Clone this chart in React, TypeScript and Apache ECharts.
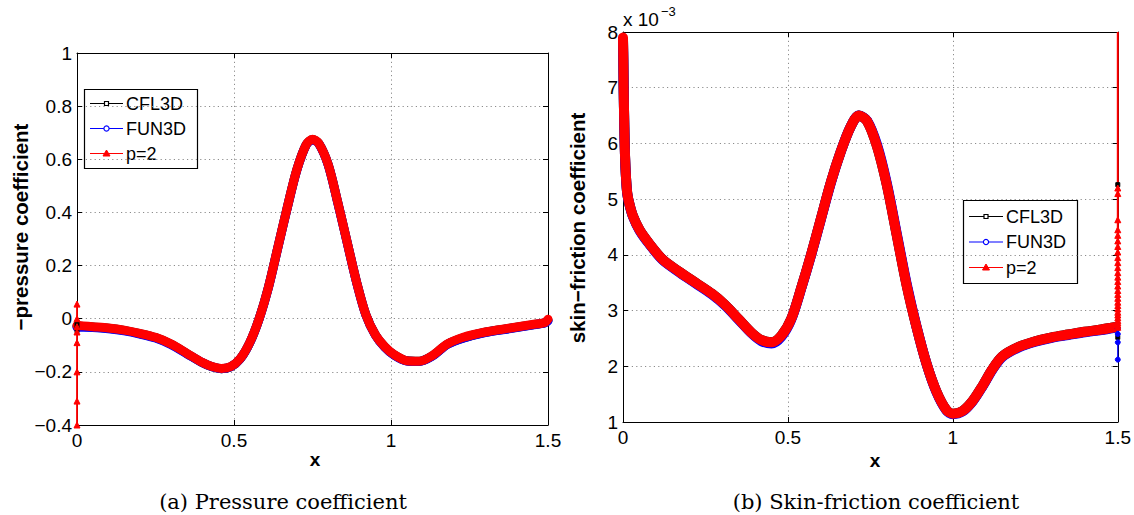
import React, { useEffect, useRef } from "react";
import * as echarts from "echarts";

// ---------- (a) pressure coefficient data ----------
const CP_X = [0, 0.02, 0.05, 0.1, 0.15, 0.2, 0.25, 0.3, 0.35, 0.4, 0.43, 0.46, 0.49, 0.52, 0.55, 0.58, 0.61, 0.64, 0.67, 0.7, 0.73, 0.75, 0.77, 0.8, 0.83, 0.86, 0.89, 0.92, 0.95, 0.98, 1.01, 1.05, 1.09, 1.13, 1.18, 1.23, 1.3, 1.38, 1.45, 1.49, 1.5];
const CP_CFL3D = [-0.028, -0.029, -0.031, -0.036, -0.044, -0.056, -0.071, -0.096, -0.131, -0.166, -0.181, -0.188, -0.181, -0.151, -0.091, 0.0, 0.12, 0.27, 0.42, 0.56, 0.655, 0.674, 0.66, 0.58, 0.44, 0.29, 0.14, 0.015, -0.06, -0.106, -0.136, -0.158, -0.16, -0.141, -0.096, -0.072, -0.051, -0.036, -0.023, -0.015, -0.006];
const CP_FUN3D = [-0.032, -0.032, -0.033, -0.038, -0.046, -0.058, -0.073, -0.098, -0.132, -0.166, -0.181, -0.188, -0.181, -0.151, -0.091, -0.001, 0.119, 0.269, 0.419, 0.559, 0.654, 0.673, 0.659, 0.579, 0.439, 0.289, 0.139, 0.014, -0.061, -0.107, -0.137, -0.159, -0.161, -0.142, -0.097, -0.073, -0.052, -0.037, -0.024, -0.016, -0.008];
const CP_P2 = [-0.025, -0.027, -0.03, -0.035, -0.043, -0.055, -0.07, -0.095, -0.13, -0.165, -0.18, -0.187, -0.18, -0.15, -0.09, 0.0, 0.12, 0.27, 0.42, 0.56, 0.655, 0.675, 0.66, 0.58, 0.44, 0.29, 0.14, 0.015, -0.06, -0.105, -0.135, -0.158, -0.16, -0.14, -0.095, -0.07, -0.05, -0.035, -0.022, -0.014, -0.002];
// leading-edge points, all at x = 0
const CP_P2_EDGE = [0.055, 0.0, -0.03, -0.05, -0.09, -0.2, -0.31, -0.4];
const CP_CFL3D_EDGE = [-0.02, -0.035, -0.045];
const CP_TICKS_Y = [-0.4, -0.2, 0, 0.2, 0.4, 0.6, 0.8, 1];

// ---------- (b) skin-friction coefficient data (x 10^-3) ----------
const CF_X = [0, 0.001, 0.002, 0.004, 0.006, 0.009, 0.013, 0.02, 0.03, 0.05, 0.08, 0.12, 0.17, 0.22, 0.27, 0.31, 0.35, 0.39, 0.42, 0.45, 0.48, 0.51, 0.54, 0.57, 0.6, 0.63, 0.66, 0.69, 0.715, 0.74, 0.77, 0.8, 0.83, 0.86, 0.89, 0.92, 0.95, 0.98, 1.0, 1.03, 1.06, 1.09, 1.12, 1.15, 1.2, 1.25, 1.3, 1.35, 1.4, 1.45, 1.49];
const CF_CFL3D = [7.85, 7.5, 7.0, 6.3, 5.8, 5.4, 5.1, 4.9, 4.7, 4.45, 4.2, 3.92, 3.7, 3.5, 3.3, 3.1, 2.85, 2.6, 2.47, 2.43, 2.55, 2.85, 3.4, 4.0, 4.65, 5.3, 5.85, 6.3, 6.5, 6.4, 5.95, 5.25, 4.35, 3.45, 2.7, 2.05, 1.55, 1.22, 1.15, 1.2, 1.38, 1.65, 1.95, 2.18, 2.35, 2.45, 2.52, 2.57, 2.62, 2.66, 2.7];
const CF_FUN3D = [7.85, 7.49, 6.99, 6.29, 5.79, 5.39, 5.09, 4.89, 4.69, 4.44, 4.19, 3.91, 3.69, 3.49, 3.29, 3.09, 2.84, 2.59, 2.45, 2.41, 2.53, 2.84, 3.39, 3.99, 4.64, 5.29, 5.85, 6.3, 6.5, 6.41, 5.98, 5.28, 4.38, 3.48, 2.71, 2.05, 1.54, 1.21, 1.14, 1.19, 1.37, 1.64, 1.94, 2.17, 2.34, 2.44, 2.51, 2.56, 2.61, 2.65, 2.69];
const CF_P2 = [7.9, 7.5, 7.0, 6.3, 5.8, 5.4, 5.1, 4.9, 4.7, 4.45, 4.2, 3.92, 3.7, 3.5, 3.3, 3.1, 2.85, 2.6, 2.47, 2.43, 2.55, 2.85, 3.4, 4.0, 4.65, 5.3, 5.85, 6.3, 6.5, 6.4, 5.95, 5.25, 4.35, 3.45, 2.7, 2.05, 1.55, 1.22, 1.15, 1.2, 1.38, 1.65, 1.95, 2.18, 2.35, 2.45, 2.52, 2.57, 2.62, 2.66, 2.7];
// trailing-edge points, all at x = 1.5 (last value is the line's top end, no marker)
const CF_P2_EDGE = [2.7, 2.74, 2.78, 2.82, 2.87, 2.92, 2.97, 3.03, 3.09, 3.15, 3.22, 3.29, 3.36, 3.44, 3.52, 3.6, 3.68, 3.77, 3.86, 3.95, 4.05, 4.15, 4.25, 4.35, 4.45, 4.63, 5.1, 5.2, 8.0];
const CF_FUN3D_EDGE = [2.68, 2.58, 2.43, 2.12];
const CF_CFL3D_EDGE = [2.52, 5.26];
const CF_TICKS_Y = [1, 2, 3, 4, 5, 6, 7, 8];
const X_TICKS = [0, 0.5, 1, 1.5];

const LEGEND_NAMES = ["CFL3D", "FUN3D", "p=2"];
const COLORS = ["#000000", "#0000ff", "#ff0000"];

const SANS = "'Liberation Sans', Arial, Helvetica, sans-serif";
const SERIF = "'DejaVu Serif', 'Liberation Serif', serif";

const pairs = (xs: number[], ys: number[]) => xs.map((x, i) => [x, ys[i]]);
const atX = (x: number, ys: number[]) => ys.map((y) => [x, y]);

function fmtNum(v: number) {
  const r = Math.round(v * 10) / 10;
  return String(r).replace("-", "\u2212");
}

function xAxes(grid: number) {
  const base = {
    gridIndex: grid,
    type: "value",
    min: X_TICKS[0],
    max: X_TICKS[X_TICKS.length - 1],
    interval: 0.5,
    axisLine: { show: true, onZero: false, lineStyle: { color: "#000", width: 1 } },
    axisTick: { show: true, inside: true, length: 5, lineStyle: { color: "#000", width: 1 } },
  };
  return [
    {
      ...base,
      position: "bottom",
      axisLabel: { color: "#000", fontSize: 19, fontFamily: SANS, margin: 6, formatter: (v: number) => fmtNum(v), showMinLabel: true, showMaxLabel: true },
      splitLine: { show: true, lineStyle: { color: "#8c8c8c", width: 1, type: [1.2, 3.2] } },
    },
    { ...base, position: "top", axisLabel: { show: false }, splitLine: { show: false } },
  ];
}

function yAxes(grid: number, ticks: number[], interval: number) {
  const base = {
    gridIndex: grid,
    type: "value",
    min: ticks[0],
    max: ticks[ticks.length - 1],
    interval,
    axisLine: { show: true, onZero: false, lineStyle: { color: "#000", width: 1 } },
    axisTick: { show: true, inside: true, length: 5, lineStyle: { color: "#000", width: 1 } },
  };
  return [
    {
      ...base,
      position: "left",
      axisLabel: { color: "#000", fontSize: 19, fontFamily: SANS, margin: 5, formatter: (v: number) => fmtNum(v), showMinLabel: true, showMaxLabel: true },
      splitLine: { show: true, lineStyle: { color: "#8c8c8c", width: 1, type: [1.2, 3.2] } },
    },
    { ...base, position: "right", axisLabel: { show: false }, splitLine: { show: false } },
  ];
}

function thick(name: string, data: number[][], color: string, xi: number, yi: number, width: number) {
  return {
    type: "line",
    name,
    xAxisIndex: xi,
    yAxisIndex: yi,
    data,
    symbol: "none",
    smooth: 0.3,
    clip: false,
    silent: true,
    z: 5,
    lineStyle: { color, width, cap: "round", join: "round" },
  };
}

function thin(name: string, data: any[], color: string, xi: number, yi: number, symbol: string, size: number, lineWidth = 1.3) {
  return {
    type: "line",
    name,
    xAxisIndex: xi,
    yAxisIndex: yi,
    data,
    symbol,
    symbolSize: size,
    showSymbol: true,
    showAllSymbol: true,
    clip: false,
    silent: true,
    z: 5,
    lineStyle: { color, width: lineWidth, opacity: lineWidth > 0 ? 1 : 0 },
    itemStyle: { color, borderColor: color, borderWidth: 1 },
  };
}

function legendBox(x: number, y: number, w: number, h: number, rows: number[], lx1: number, lx2: number, tx: number) {
  const children: any[] = [
    { type: "rect", shape: { x, y, width: w, height: h }, style: { fill: "#fff", stroke: "#000", lineWidth: 1.2 } },
  ];
  const mx = (lx1 + lx2) / 2;
  LEGEND_NAMES.forEach((name, i) => {
    const ry = rows[i];
    const c = COLORS[i];
    children.push({ type: "line", shape: { x1: lx1, y1: ry, x2: lx2, y2: ry }, style: { stroke: c, lineWidth: 1.2 } });
    if (i === 0) {
      children.push({ type: "rect", shape: { x: mx - 2, y: ry - 2, width: 4, height: 4 }, style: { fill: "#fff", stroke: c, lineWidth: 1.2 } });
    } else if (i === 1) {
      children.push({ type: "circle", shape: { cx: mx, cy: ry, r: 2.6 }, style: { fill: "#fff", stroke: c, lineWidth: 1.2 } });
    } else {
      children.push({ type: "polygon", shape: { points: [[mx, ry - 3.5], [mx - 3.5, ry + 2.5], [mx + 3.5, ry + 2.5]] }, style: { fill: c, stroke: c, lineWidth: 1 } });
    }
    children.push({ type: "text", style: { x: tx, y: ry, text: name, fill: "#000", font: `18px ${SANS}`, textAlign: "left", textVerticalAlign: "middle" } });
  });
  return { type: "group", z: 100, children };
}

export default function App() {
  const ref = useRef<HTMLDivElement>(null);
  useEffect(() => {
    if (!ref.current) return;
    const chart = echarts.init(ref.current, undefined, { renderer: "svg" });
    const cfP2Edge = atX(1.5, CF_P2_EDGE).map((p, i, a) => (i === a.length - 1 ? { value: p, symbol: "none" } : p));
    const option: any = {
      animation: false,
      backgroundColor: "#fff",
      grid: [
        { left: 77, top: 53, width: 471, height: 372, show: false },
        { left: 623, top: 32, width: 496, height: 390, show: false },
      ],
      xAxis: [...xAxes(0), ...xAxes(1)],
      yAxis: [...yAxes(0, CP_TICKS_Y, 0.2), ...yAxes(1, CF_TICKS_Y, 1)],
      series: [
        thick("CFL3D", pairs(CP_X, CP_CFL3D), COLORS[0], 0, 0, 9),
        thick("FUN3D", pairs(CP_X, CP_FUN3D), COLORS[1], 0, 0, 9),
        thin("CFL3D edge", atX(0, CP_CFL3D_EDGE), COLORS[0], 0, 0, "rect", 4),
        thin("p=2 edge", atX(0, CP_P2_EDGE), COLORS[2], 0, 0, "triangle", 6, 1.8),
        thick("p=2", pairs(CP_X, CP_P2), COLORS[2], 0, 0, 9),

        thick("CFL3D", pairs(CF_X, CF_CFL3D), COLORS[0], 2, 2, 10),
        thick("FUN3D", pairs(CF_X, CF_FUN3D), COLORS[1], 2, 2, 10),
        thin("CFL3D edge", atX(1.5, CF_CFL3D_EDGE), COLORS[0], 2, 2, "rect", 4, 0),
        thin("FUN3D edge", atX(1.5, CF_FUN3D_EDGE), COLORS[1], 2, 2, "circle", 5),
        thin("p=2 edge", cfP2Edge, COLORS[2], 2, 2, "triangle", 6, 2),
        thick("p=2", pairs(CF_X, CF_P2), COLORS[2], 2, 2, 10),
      ],
      graphic: [
        legendBox(84.5, 89.5, 113, 79, [103.5, 128.5, 153.5], 90, 123, 126),
        legendBox(963.5, 200.5, 114, 83, [216.5, 242, 267.5], 969, 1003, 1006),
        { type: "text", x: 20, y: 227, rotation: Math.PI / 2, style: { text: "\u2212pressure coefficient", fill: "#000", font: `bold 20.5px ${SANS}`, textAlign: "center", textVerticalAlign: "middle" } },
        { type: "text", x: 577, y: 228, rotation: Math.PI / 2, style: { text: "skin\u2212friction coefficient", fill: "#000", font: `bold 20.5px ${SANS}`, textAlign: "center", textVerticalAlign: "middle" } },
        { type: "text", x: 315, y: 459, style: { text: "x", fill: "#000", font: `bold 19px ${SANS}`, textAlign: "center", textVerticalAlign: "middle" } },
        { type: "text", x: 875, y: 460, style: { text: "x", fill: "#000", font: `bold 19px ${SANS}`, textAlign: "center", textVerticalAlign: "middle" } },
        { type: "text", x: 623, y: 19, style: { text: "x 10", fill: "#000", font: `19px ${SANS}`, textAlign: "left", textVerticalAlign: "middle" } },
        { type: "text", x: 661, y: 11, style: { text: "\u22123", fill: "#000", font: `13px ${SANS}`, textAlign: "left", textVerticalAlign: "middle" } },
        { type: "text", x: 283, y: 502, style: { text: "(a) Pressure coefficient", fill: "#000", font: `21px ${SERIF}`, textAlign: "center", textVerticalAlign: "middle" } },
        { type: "text", x: 876, y: 502, style: { text: "(b) Skin-friction coefficient", fill: "#000", font: `21px ${SERIF}`, textAlign: "center", textVerticalAlign: "middle" } },
      ],
    };
    chart.setOption(option);
    return () => chart.dispose();
  }, []);
  return <div ref={ref} style={{ position: "fixed", left: 0, top: 0, width: 1134, height: 515, background: "#fff" }} />;
}
